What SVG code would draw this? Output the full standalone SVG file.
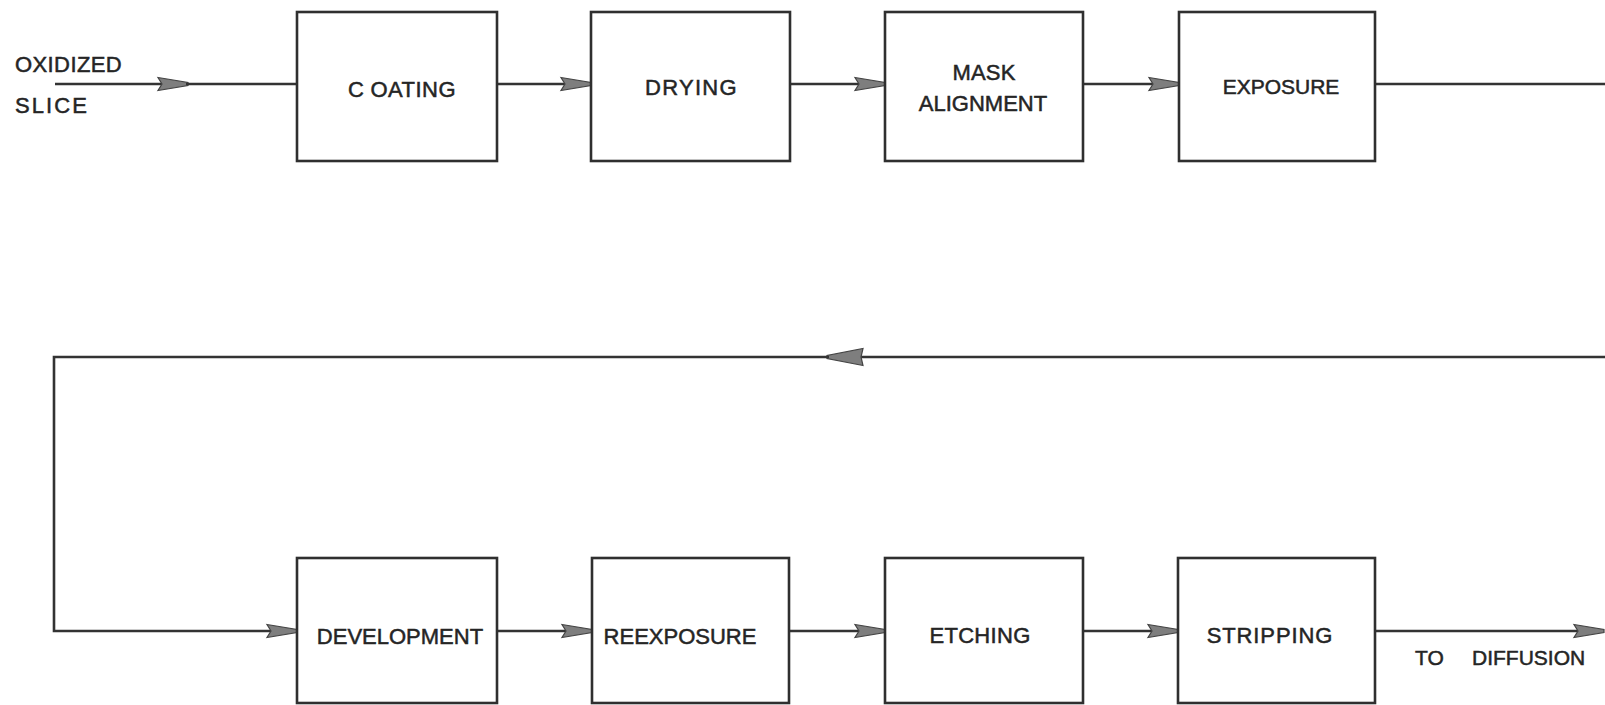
<svg xmlns="http://www.w3.org/2000/svg" width="1605" height="705" viewBox="0 0 1605 705">
<style>
.box{fill:none;stroke:#2f2f2f;stroke-width:2.6}
.ln{fill:none;stroke:#333;stroke-width:2.6}
.t{font-family:"Liberation Sans",Arial,sans-serif;font-size:22px;fill:#252525;stroke:#252525;stroke-width:0.5;text-anchor:middle}
.l{text-anchor:start}
.head{fill:#7e7e7e;stroke:#444;stroke-width:1.2}
</style>
<defs>
<marker id="ah" markerUnits="userSpaceOnUse" viewBox="0 -8 34 16" markerWidth="34" markerHeight="16" refX="32" refY="0" orient="auto">
<path class="head" d="M2,-6.5 L32,-1.5 L32,1.5 L2,6.5 L6,0 Z"/>
</marker>
<marker id="ahb" markerUnits="userSpaceOnUse" viewBox="0 -10 40 20" markerWidth="40" markerHeight="20" refX="38" refY="0" orient="auto">
<path class="head" d="M2,-8.5 L38,-1.5 L38,1.5 L2,8.5 L4,0 Z"/>
</marker>
</defs>
<rect width="1605" height="705" fill="#ffffff"/>
<g id="connectors">
<line class="ln" x1="55" y1="84" x2="188" y2="84" marker-end="url(#ah)"/>
<line class="ln" x1="186" y1="84" x2="297" y2="84"/>
<line class="ln" x1="497" y1="84" x2="591" y2="84" marker-end="url(#ah)"/>
<line class="ln" x1="790" y1="84" x2="885" y2="84" marker-end="url(#ah)"/>
<line class="ln" x1="1083" y1="84" x2="1179" y2="84" marker-end="url(#ah)"/>
<polyline class="ln" points="1375,84 1605,84"/>
<line class="ln" x1="1605" y1="357" x2="827" y2="357" marker-end="url(#ahb)"/>
<polyline class="ln" points="829,357 54,357 54,631 297,631" marker-end="url(#ah)"/>
<line class="ln" x1="497" y1="631" x2="592" y2="631" marker-end="url(#ah)"/>
<line class="ln" x1="789" y1="631" x2="885" y2="631" marker-end="url(#ah)"/>
<line class="ln" x1="1083" y1="631" x2="1178" y2="631" marker-end="url(#ah)"/>
<line class="ln" x1="1375" y1="631" x2="1604" y2="631" marker-end="url(#ah)"/>
</g>
<g id="input-label">
<text class="t l" x="15" y="72" style="letter-spacing:0.4px">OXIDIZED</text>
<text class="t l" x="15" y="113" style="letter-spacing:2.1px">SLICE</text>
</g>
<g id="coating">
<rect class="box" x="297" y="12" width="200" height="149"/>
<text class="t l" x="348" y="97" style="letter-spacing:0.5px">C<tspan dx="6">OATING</tspan></text>
</g>
<g id="drying">
<rect class="box" x="591" y="12" width="199" height="149"/>
<text class="t l" x="645" y="95" style="letter-spacing:1.3px">DRYING</text>
</g>
<g id="mask-alignment">
<rect class="box" x="885" y="12" width="198" height="149"/>
<text class="t" x="984" y="80" style="letter-spacing:0.2px">MASK</text>
<text class="t" x="983" y="111">ALIGNMENT</text>
</g>
<g id="exposure">
<rect class="box" x="1179" y="12" width="196" height="149"/>
<text class="t" x="1281" y="94" style="font-size:21px">EXPOSURE</text>
</g>
<g id="development">
<rect class="box" x="297" y="558" width="200" height="145"/>
<text class="t" x="400" y="644">DEVELOPMENT</text>
</g>
<g id="reexposure">
<rect class="box" x="592" y="558" width="197" height="145"/>
<text class="t" x="680" y="644">REEXPOSURE</text>
</g>
<g id="etching">
<rect class="box" x="885" y="558" width="198" height="145"/>
<text class="t" x="980" y="643" style="letter-spacing:0.3px">ETCHING</text>
</g>
<g id="stripping">
<rect class="box" x="1178" y="558" width="197" height="145"/>
<text class="t" x="1270" y="643" style="letter-spacing:0.9px">STRIPPING</text>
</g>
<g id="output-label">
<text class="t l" x="1415" y="665" style="font-size:21px">TO<tspan x="1472">DIFFUSION</tspan></text>
</g>
</svg>
